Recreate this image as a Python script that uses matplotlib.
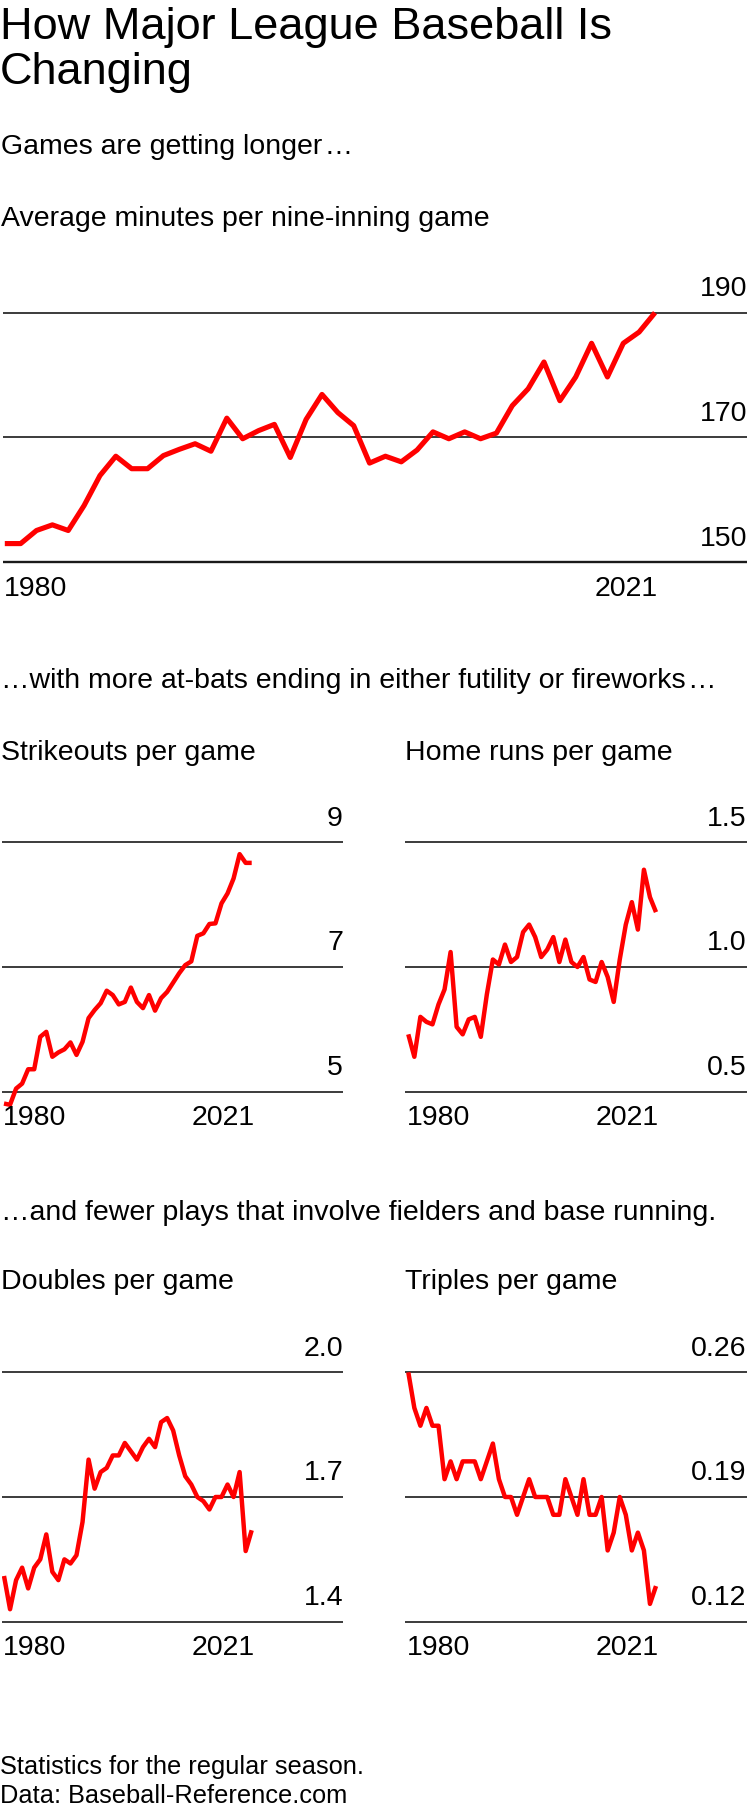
import matplotlib
matplotlib.use("Agg")
import matplotlib.pyplot as plt

plt.rcParams['font.family'] = ['Liberation Sans', 'DejaVu Sans']

# Données : saisons régulières 1980-2021
years = list(range(1980, 2022))

minutes = [153.0, 153.0, 155.1, 156.0, 155.1, 159.1, 163.9, 167.0, 165.0, 165.0,
           167.1, 168.1, 169.0, 167.8, 173.1, 169.8, 171.1, 172.1, 166.8, 172.9,
           176.9, 174.0, 171.9, 165.9, 167.0, 166.1, 168.0, 170.9, 169.8, 170.9,
           169.8, 170.7, 175.1, 177.8, 182.1, 175.9, 179.7, 185.1, 179.7, 185.1,
           186.9, 190.0]

strikeouts = [4.81, 4.79, 5.05, 5.13, 5.36, 5.36, 5.88, 5.96, 5.56, 5.63,
              5.68, 5.79, 5.59, 5.80, 6.18, 6.31, 6.42, 6.62, 6.55, 6.40,
              6.44, 6.67, 6.44, 6.34, 6.55, 6.30, 6.50, 6.60, 6.75, 6.90,
              7.03, 7.09, 7.50, 7.54, 7.69, 7.70, 8.02, 8.18, 8.42, 8.81,
              8.67, 8.67]

home_runs = [0.73, 0.64, 0.80, 0.78, 0.77, 0.85, 0.91, 1.06, 0.76, 0.73,
             0.79, 0.80, 0.72, 0.89, 1.03, 1.01, 1.09, 1.02, 1.04, 1.14,
             1.17, 1.12, 1.04, 1.07, 1.12, 1.02, 1.11, 1.02, 1.00, 1.04,
             0.95, 0.94, 1.02, 0.96, 0.86, 1.03, 1.17, 1.26, 1.15, 1.39,
             1.28, 1.22]

doubles = [1.51, 1.43, 1.50, 1.53, 1.48, 1.53, 1.55, 1.61, 1.52, 1.50,
           1.55, 1.54, 1.56, 1.64, 1.79, 1.72, 1.76, 1.77, 1.80, 1.80,
           1.83, 1.81, 1.79, 1.82, 1.84, 1.82, 1.88, 1.89, 1.86, 1.80,
           1.75, 1.73, 1.70, 1.69, 1.67, 1.70, 1.70, 1.73, 1.70, 1.76,
           1.57, 1.62]

triples = [0.26, 0.24, 0.23, 0.24, 0.23, 0.23, 0.20, 0.21, 0.20, 0.21,
           0.21, 0.21, 0.20, 0.21, 0.22, 0.20, 0.19, 0.19, 0.18, 0.19,
           0.20, 0.19, 0.19, 0.19, 0.18, 0.18, 0.20, 0.19, 0.18, 0.20,
           0.18, 0.18, 0.19, 0.16, 0.17, 0.19, 0.18, 0.16, 0.17, 0.16,
           0.13, 0.14]

minutes_ticks = [150, 170, 190]
minutes_labels = ['150', '170', '190']
strikeouts_ticks = [5, 7, 9]
strikeouts_labels = ['5', '7', '9']
home_runs_ticks = [0.5, 1.0, 1.5]
home_runs_labels = ['0.5', '1.0', '1.5']
doubles_ticks = [1.4, 1.7, 2.0]
doubles_labels = ['1.4', '1.7', '2.0']
triples_ticks = [0.12, 0.19, 0.26]
triples_labels = ['0.12', '0.19', '0.26']

W, H = 750, 1810
DPI = 100
FS = 20.5
fig = plt.figure(figsize=(W / DPI, H / DPI), dpi=DPI)


def texte(x, y, s, size=FS):
    # x, y en pixels depuis le coin haut gauche, y = ligne de base
    fig.text(x / W, 1 - y / H, s, fontsize=size, va='baseline', ha='left', color='black')


def panneau(left, right, x_first, x_last, grid_top, grid_bottom, values, ticks, labels, lw, bottom_lw):
    pad = 45
    top_px = grid_top - pad
    bot_px = grid_bottom + pad
    ax = fig.add_axes([left / W, 1 - bot_px / H, (right - left) / W, (bot_px - top_px) / H])
    per_px = (ticks[-1] - ticks[0]) / (grid_bottom - grid_top)
    ax.set_ylim(ticks[0] - pad * per_px, ticks[-1] + pad * per_px)
    per_px_x = (years[-1] - years[0]) / (x_last - x_first)
    ax.set_xlim(years[0] - (x_first - left) * per_px_x, years[-1] + (right - x_last) * per_px_x)
    ax.axis('off')
    for i, (t, lab) in enumerate(zip(ticks, labels)):
        ax.axhline(t, color='#1a1a1a', lw=bottom_lw if i == 0 else 1.2, zorder=1)
        ax.annotate(lab, xy=(1, t), xycoords=('axes fraction', 'data'), xytext=(0, 12),
                    textcoords='offset points', ha='right', va='baseline', fontsize=FS)
    ax.plot(years, values, color='#ff0000', lw=lw, zorder=3, solid_capstyle='butt')
    ax.annotate(str(years[0]), xy=(years[0], ticks[0]), xytext=(-1, -24), textcoords='offset points',
                ha='left', va='baseline', fontsize=FS)
    ax.annotate(str(years[-1]), xy=(years[-1], ticks[0]), xytext=(2, -24), textcoords='offset points',
                ha='right', va='baseline', fontsize=FS)
    return ax


# Titre et textes
texte(0, 38.5, 'How Major League Baseball Is', size=32.5)
texte(0, 84, 'Changing', size=32.5)
texte(1, 154.5, 'Games are getting longer\u200a…')
texte(1, 226, 'Average minutes per nine-inning game')
texte(1, 688, '…with more at-bats ending in either futility or fireworks\u200a…')
texte(1, 759.5, 'Strikeouts per game')
texte(405, 759.5, 'Home runs per game')
texte(1, 1220, '…and fewer plays that involve fielders and base running.')
texte(1, 1289, 'Doubles per game')
texte(405, 1289, 'Triples per game')
texte(0, 1774, 'Statistics for the regular season.', size=18.3)
texte(0, 1803, 'Data: Baseball-Reference.com', size=18.3)

# Graphiques
panneau(3, 747, 4.8, 655, 312.7, 562.3, minutes, minutes_ticks, minutes_labels, 3.7, 1.7)
panneau(2, 343, 4, 251.7, 842.3, 1091.7, strikeouts, strikeouts_ticks, strikeouts_labels, 3.2, 1.2)
panneau(405, 746.7, 408.3, 656, 842.3, 1091.7, home_runs, home_runs_ticks, home_runs_labels, 3.2, 1.2)
panneau(2, 343, 4, 251.7, 1372.3, 1621.7, doubles, doubles_ticks, doubles_labels, 3.2, 1.2)
panneau(405, 746.7, 408.3, 656, 1372.3, 1621.7, triples, triples_ticks, triples_labels, 3.2, 1.2)

fig.savefig('out.png', dpi=DPI)
